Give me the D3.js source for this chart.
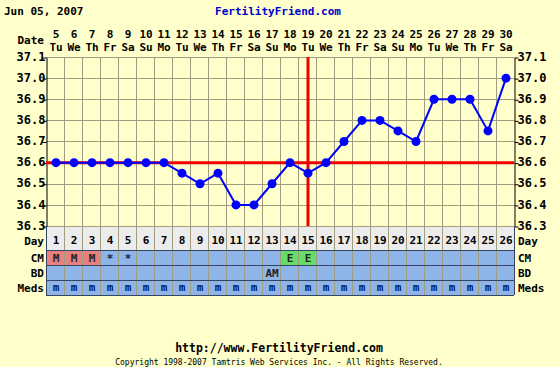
<!DOCTYPE html>
<html>
<head>
<meta charset="utf-8">
<script src="https://d3js.org/d3.v7.min.js"></script>
<style>
body { margin: 0; background: #ffffcc; }
text { font-family: "DejaVu Sans Mono", monospace; font-weight: bold; }
</style>
</head>
<body>
<svg width="560" height="367"></svg>
<script>
// chart data
var days = d3.range(1, 27);
var dates = [5,6,7,8,9,10,11,12,13,14,15,16,17,18,19,20,21,22,23,24,25,26,27,28,29,30];
var weekdays = ["Tu","We","Th","Fr","Sa","Su","Mo","Tu","We","Th","Fr","Sa","Su","Mo","Tu","We","Th","Fr","Sa","Su","Mo","Tu","We","Th","Fr","Sa"];
var temps = [36.6,36.6,36.6,36.6,36.6,36.6,36.6,36.55,36.5,36.55,36.4,36.4,36.5,36.6,36.55,36.6,36.7,36.8,36.8,36.75,36.7,36.9,36.9,36.9,36.75,37.0];
var tempTicks = [36.3,36.4,36.5,36.6,36.7,36.8,36.9,37.0,37.1];
var cm = ["M","M","M","*","*","","","","","","","","","E","E","","","","","","","","","","",""];
var bd = ["","","","","","","","","","","","","AM","","","","","","","","","","","","",""];
var meds = days.map(function() { return "m"; });
var coverline = 36.6;
var ovulationDay = 15;

var svg = d3.select("svg");
var pl = 46, pr = 514, pt = 57, pb = 226;

var x = d3.scaleBand().domain(days).range([pl, pr]);
var y = d3.scaleLinear().domain([36.3, 37.1]).range([pb, pt]);
function cx(d) { return x(d) + x.bandwidth() / 2 + 1; }

// header
svg.append("text").attr("x", 4).attr("y", 15).style("font-size", "11px").attr("fill", "#000").text("Jun 05, 2007");
svg.append("text").attr("x", 278).attr("y", 15).attr("text-anchor", "middle").style("font-size", "11px").attr("fill", "#0000cc").text("FertilityFriend.com");

svg.append("text").attr("x", 44).attr("y", 44).attr("text-anchor", "end").style("font-size", "11px").text("Date");
svg.append("g").selectAll("text").data(days).enter().append("text")
	.attr("x", cx)
	.attr("y", 38)
	.attr("text-anchor", "middle")
	.style("font-size", "11px")
	.text(function(d, i) { return dates[i]; });
svg.append("g").selectAll("text").data(days).enter().append("text")
	.attr("x", cx)
	.attr("y", 51)
	.attr("text-anchor", "middle")
	.style("font-size", "11px")
	.text(function(d, i) { return weekdays[i]; });

// grid
var grid = svg.append("g").attr("stroke", "#a09c80").attr("stroke-width", 1);
grid.selectAll("line.v").data(days.slice(1)).enter().append("line")
	.attr("x1", function(d) { return x(d) + 0.5; })
	.attr("x2", function(d) { return x(d) + 0.5; })
	.attr("y1", pt).attr("y2", pb);
grid.selectAll("line.h").data(tempTicks).enter().append("line")
	.attr("x1", pl).attr("x2", pr)
	.attr("y1", function(d) { return Math.round(y(d)) + 0.5; })
	.attr("y2", function(d) { return Math.round(y(d)) + 0.5; });

// axes
var yLeft = d3.axisLeft(y).tickValues(tempTicks).tickFormat(d3.format(".1f")).tickSize(4).tickSizeOuter(0);
var yRight = d3.axisRight(y).tickValues(tempTicks).tickFormat(d3.format(".1f")).tickSize(4).tickSizeOuter(0);
var gl = svg.append("g").attr("transform", "translate(" + (pl + 0.5) + ",0.5)").call(yLeft);
var gr = svg.append("g").attr("transform", "translate(" + (pr + 0.5) + ",0.5)").call(yRight);
[gl, gr].forEach(function(g) {
	g.select(".domain").attr("stroke", "#000");
	g.selectAll("line").attr("stroke", "#000");
	g.selectAll("text").style("font-size", "12px").style("font-family", "DejaVu Sans Mono").style("font-weight", "bold").attr("fill", "#000").attr("dy", "0.22em");
});
gl.selectAll("text").attr("x", -1);
gr.selectAll("text").attr("x", 3);

// table rows
var rows = [
	{ label: "Day", y0: 227, h: 23, fill: "#ececec", ty: 245 },
	{ label: "CM", y0: 250, h: 15, fill: "#8fb4e8", ty: 262 },
	{ label: "BD", y0: 265, h: 15, fill: "#8fb4e8", ty: 277 },
	{ label: "Meds", y0: 280, h: 15, fill: "#8fb4e8", ty: 292 }
];
rows.forEach(function(r) {
	svg.append("rect").attr("x", pl).attr("y", r.y0).attr("width", pr - pl).attr("height", r.h).attr("fill", r.fill);
	svg.append("text").attr("x", 44).attr("y", r.ty).attr("text-anchor", "end").style("font-size", "11px").text(r.label);
	svg.append("text").attr("x", 518).attr("y", r.ty).style("font-size", "11px").text(r.label);
});

// coloured CM cells
svg.append("g").selectAll("rect").data(days.filter(function(d, i) { return cm[i] === "M" || cm[i] === "E"; })).enter().append("rect")
	.attr("x", function(d) { return x(d) + 1; })
	.attr("y", 251)
	.attr("width", x.bandwidth() - 1)
	.attr("height", 14)
	.attr("fill", function(d) { return cm[d - 1] === "M" ? "#e88080" : "#66dd66"; });

// cell separators
var sep = svg.append("g").attr("stroke", "#a09c80");
sep.selectAll("line").data(days.slice(1)).enter().append("line")
	.attr("x1", function(d) { return x(d) + 0.5; })
	.attr("x2", function(d) { return x(d) + 0.5; })
	.attr("y1", 227).attr("y2", 295);
[250, 265, 280, 295].forEach(function(yy) {
	svg.append("line").attr("x1", pl).attr("x2", pr).attr("y1", yy + 0.5).attr("y2", yy + 0.5).attr("stroke", "#334466");
});
svg.append("line").attr("x1", pl + 0.5).attr("x2", pl + 0.5).attr("y1", 227).attr("y2", 295).attr("stroke", "#334466");
svg.append("line").attr("x1", pr + 0.5).attr("x2", pr + 0.5).attr("y1", 227).attr("y2", 295).attr("stroke", "#334466");

function cellText(arr, yy, size, color) {
	svg.append("g").selectAll("text").data(days).enter().append("text")
		.attr("x", cx)
		.attr("y", yy)
		.attr("text-anchor", "middle")
		.style("font-size", size)
		.attr("fill", color)
		.text(function(d, i) { return arr[i]; });
}
cellText(days, 244, "11px", "#000");
cellText(cm, 262, "11px", "#222");
cellText(bd, 277, "11px", "#222");
cellText(meds, 291, "11px", "#001a66");

// coverline and ovulation line
svg.append("line").attr("x1", pl).attr("x2", pr)
	.attr("y1", y(coverline)).attr("y2", y(coverline))
	.attr("stroke", "#ee0000").attr("stroke-width", 3);
svg.append("line")
	.attr("x1", cx(ovulationDay)).attr("x2", cx(ovulationDay))
	.attr("y1", pt).attr("y2", pb)
	.attr("stroke", "#ee0000").attr("stroke-width", 3);

// temperature line
var line = d3.line()
	.x(function(d, i) { return cx(days[i]); })
	.y(function(d) { return y(d); });
svg.append("path").datum(temps).attr("d", line).attr("fill", "none").attr("stroke", "#0000ff").attr("stroke-width", 2);
svg.append("g").selectAll("circle").data(temps).enter().append("circle")
	.attr("cx", function(d, i) { return cx(days[i]); })
	.attr("cy", function(d) { return y(d); })
	.attr("r", 4.5)
	.attr("fill", "#0000ff");

// footer
svg.append("text").attr("x", 279).attr("y", 352).attr("text-anchor", "middle").style("font-size", "11.5px").text("http://www.FertilityFriend.com");
svg.append("text").attr("x", 279).attr("y", 365).attr("text-anchor", "middle").style("font-size", "8px").style("font-weight", "normal").text("Copyright 1998-2007 Tamtris Web Services Inc. - All Rights Reserved.");
</script>
</body>
</html>
